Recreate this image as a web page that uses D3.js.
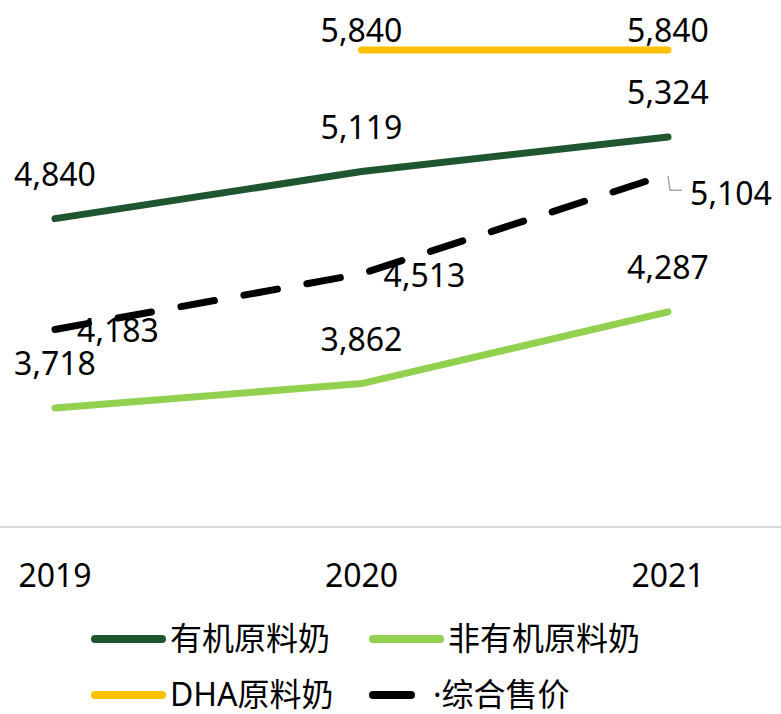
<!DOCTYPE html>
<html>
<head>
<meta charset="utf-8">
<script src="https://cdn.jsdelivr.net/npm/d3@7"></script>
<style>
  body { margin: 0; background: #fff; }
  svg text { font-family: "Noto Sans", "Noto Sans CJK SC", sans-serif; fill: #000; }
</style>
</head>
<body>
<svg id="chart"></svg>
<script>
var years = ["2019", "2020", "2021"];
var organic = [4840, 5119, 5324];
var nonOrganic = [3718, 3862, 4287];
var dha = [null, 5840, 5840];
var overall = [4183, 4513, 5104];
var seriesNames = ["有机原料奶", "非有机原料奶", "DHA原料奶", "·综合售价"];

var width = 781, height = 714;

var svg = d3.select("#chart")
    .attr("width", width)
    .attr("height", height);

var x = d3.scalePoint().domain(years).range([55, 668]);
var y = d3.scaleLinear().domain([3000, 6000]).range([529, 23]);

// baseline
svg.append("line")
  .attr("x1", 0).attr("x2", width)
  .attr("y1", y(3000) - 2).attr("y2", y(3000) - 2)
  .attr("stroke", "#d9d9d9").attr("stroke-width", 2);

// year labels
svg.append("g")
  .selectAll("text")
  .data(years)
  .enter()
  .append("text")
  .attr("x", d => x(d))
  .attr("y", 587)
  .attr("text-anchor", "middle")
  .attr("font-size", 32)
  .text(d => d);

var series = [
  { name: seriesNames[0], values: organic, color: "#1f5630", dash: null, dx: 0, dy: -33 },
  { name: seriesNames[1], values: nonOrganic, color: "#92d050", dash: null, dx: 0, dy: -33 },
  { name: seriesNames[2], values: dha, color: "#ffc000", dash: null, dx: 0, dy: -8 },
  { name: seriesNames[3], values: overall, color: "#000000", dash: "34,30", dx: 63, dy: 13 }
];

var line = d3.line()
  .defined(d => d.v != null)
  .x(d => x(d.year))
  .y(d => y(d.v));

series.forEach(function(s) {
  var pts = years.map((yr, i) => ({ year: yr, v: s.values[i] }));

  svg.append("path")
    .datum(pts)
    .attr("d", line)
    .attr("fill", "none")
    .attr("stroke", s.color)
    .attr("stroke-width", 7)
    .attr("stroke-linecap", "round")
    .attr("stroke-dasharray", s.dash);

  svg.append("g")
    .selectAll("text")
    .data(pts.filter(d => d.v != null))
    .enter()
    .append("text")
    .attr("x", d => x(d.year) + s.dx)
    .attr("y", d => y(d.v) + s.dy + (s.dash && d.year === "2021" ? 18 : 0))
    .attr("text-anchor", "middle")
    .attr("font-size", 32)
    .text(d => d3.format(",")(d.v));
});

// leader line for last overall label
var lx = x("2021"), ly = y(overall[2]);
svg.append("path")
  .attr("d", "M" + lx + "," + (ly + 2) + "L" + (lx + 2) + "," + (ly + 16) + "L" + (lx + 14) + "," + (ly + 16))
  .attr("fill", "none")
  .attr("stroke", "#a6a6a6")
  .attr("stroke-width", 1.5);

// legend
var legendPos = [[95, 639], [373, 639], [95, 695], [373, 695]];
var legend = svg.append("g")
  .selectAll("g")
  .data(series)
  .enter()
  .append("g")
  .attr("transform", (d, i) => "translate(" + legendPos[i][0] + "," + legendPos[i][1] + ")");

legend.append("line")
  .attr("x1", 0).attr("x2", d => d.dash ? 38 : 67)
  .attr("stroke", d => d.color)
  .attr("stroke-width", 8)
  .attr("stroke-linecap", "round");

legend.append("text")
  .attr("x", d => d.dash ? 60 : 75)
  .attr("y", 11)
  .attr("font-size", 32)
  .text(d => d.name);
</script>
</body>
</html>
